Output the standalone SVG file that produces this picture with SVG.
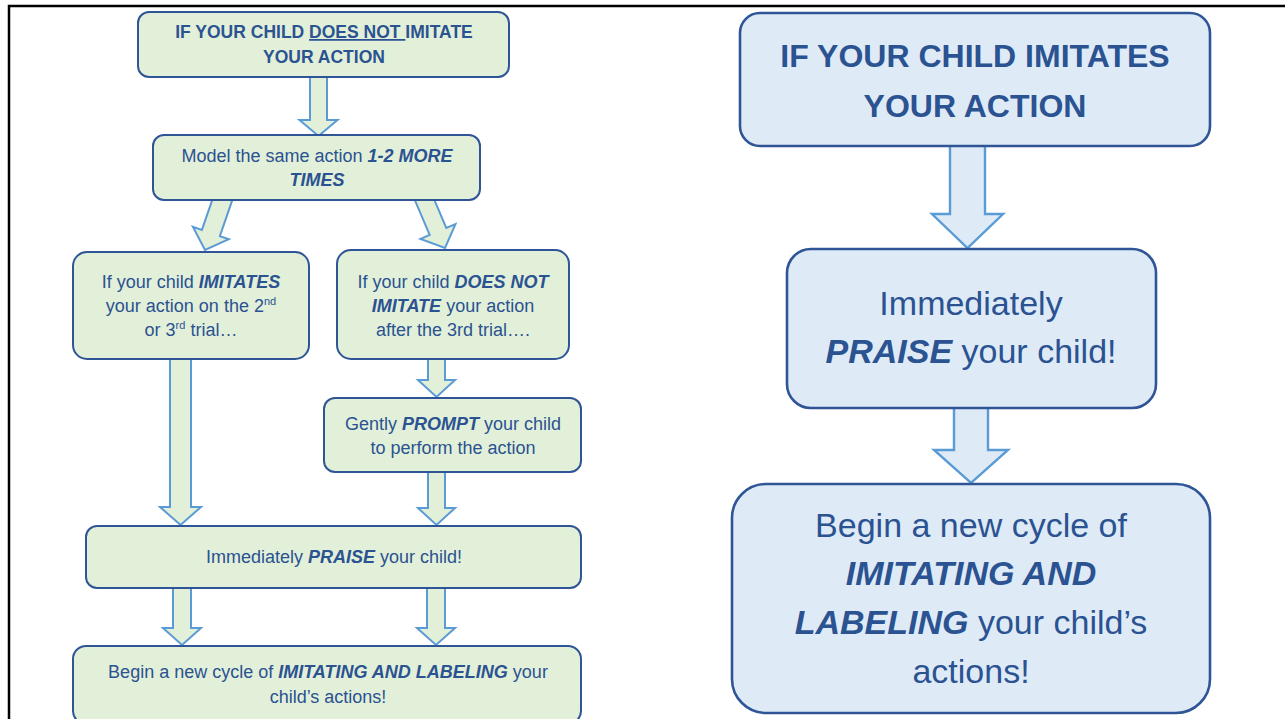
<svg xmlns="http://www.w3.org/2000/svg" width="1285" height="719" viewBox="0 0 1285 719">
<style>
text{font-family:"Liberation Sans",Arial,sans-serif;fill:#2B5291;text-anchor:middle}
.lb{fill:#E2F0D9;stroke:#2F5597;stroke-width:2}
.rb{fill:#DEEBF7;stroke:#2F5597;stroke-width:2.6}
.la{fill:#E2F0D9;stroke:#5B9BD5;stroke-width:2;stroke-linejoin:miter}
.ra{fill:#DEEBF7;stroke:#5B9BD5;stroke-width:2.4;stroke-linejoin:miter}
.t1{font-size:17.5px;font-weight:bold}
.t2{font-size:18px}
.t3{font-size:32px;font-weight:bold}
.t4{font-size:34px}
.bi{font-weight:bold;font-style:italic}
.u{text-decoration:underline}
</style>
<rect x="0" y="0" width="1285" height="719" fill="#ffffff"/>
<path d="M9 719V6H1285" fill="none" stroke="#000" stroke-width="2.5"/>
<g id="connectors">
<polygon class="la" points="310,72 327,72 327,120 337.5,120 318.5,136 299.5,120 310,120"/>
<polygon class="la" transform="translate(224,195) rotate(19.06)" points="-9.5,0 9.5,0 9.5,40.2 19,40.2 0,58.2 -19,40.2 -9.5,40.2"/>
<polygon class="la" transform="translate(422.5,195) rotate(-23)" points="-9,0 9,0 9,39.6 19,39.6 0,57.6 -19,39.6 -9,39.6"/>
<polygon class="la" points="170,355 191,355 191,507 201,507 180.5,525 160,507 170,507"/>
<polygon class="la" points="428,355 445,355 445,380 455,380 436.5,397 418,380 428,380"/>
<polygon class="la" points="428,468 445,468 445,508 455,508 436.5,525 418,508 428,508"/>
<polygon class="la" points="173,584 191,584 191,628 201,628 182,645 163,628 173,628"/>
<polygon class="la" points="427,584 445,584 445,628 455,628 436,645 417,628 427,628"/>
<polygon class="ra" points="950,140 985,140 985,214 1003,214 967.5,248 932,214 950,214"/>
<polygon class="ra" points="954,402 988,402 988,450 1008,450 971,483 934,450 954,450"/>
</g>
<g id="n1"><rect class="lb" x="138" y="12" width="371" height="65" rx="11"/>
<text class="t1" x="324" y="38">IF YOUR CHILD <tspan class="u">DOES NOT </tspan>IMITATE</text>
<text class="t1" x="324" y="63">YOUR ACTION</text></g>
<g id="n2"><rect class="lb" x="153" y="135" width="327" height="65" rx="11"/>
<text class="t2" x="317" y="162">Model the same action <tspan class="bi">1-2 MORE</tspan></text>
<text class="t2 bi" x="317" y="186">TIMES</text></g>
<g id="n3"><rect class="lb" x="73" y="252" width="236" height="107" rx="14"/>
<text class="t2" x="191" y="288">If your child <tspan class="bi">IMITATES</tspan></text>
<text class="t2" x="191" y="312">your action on the 2<tspan font-size="11" dy="-7">nd</tspan></text>
<text class="t2" x="191" y="336">or 3<tspan font-size="11" dy="-7">rd</tspan><tspan dy="7"> trial…</tspan></text></g>
<g id="n4"><rect class="lb" x="337" y="250" width="232" height="109" rx="14"/>
<text class="t2" x="453" y="288">If your child <tspan class="bi">DOES NOT</tspan></text>
<text class="t2" x="453" y="312"><tspan class="bi">IMITATE</tspan> your action</text>
<text class="t2" x="453" y="336">after the 3rd trial….</text></g>
<g id="n5"><rect class="lb" x="324" y="398" width="257" height="74" rx="11"/>
<text class="t2" x="453" y="430">Gently <tspan class="bi">PROMPT</tspan> your child</text>
<text class="t2" x="453" y="454">to perform the action</text></g>
<g id="n6"><rect class="lb" x="86" y="526" width="495" height="62" rx="11"/>
<text class="t2" x="334" y="563">Immediately <tspan class="bi">PRAISE</tspan> your child!</text></g>
<g id="n7"><rect class="lb" x="73" y="646" width="508" height="78" rx="13"/>
<text class="t2" x="328" y="678">Begin a new cycle of <tspan class="bi">IMITATING AND LABELING</tspan> your</text>
<text class="t2" x="328" y="703">child’s actions!</text></g>
<g id="r1"><rect class="rb" x="740" y="13" width="470" height="133" rx="20"/>
<text class="t3" x="975" y="67">IF YOUR CHILD IMITATES</text>
<text class="t3" x="975" y="117">YOUR ACTION</text></g>
<g id="r2"><rect class="rb" x="787" y="249" width="369" height="159" rx="24"/>
<text class="t4" x="971" y="315">Immediately</text>
<text class="t4" x="971" y="363"><tspan class="bi">PRAISE</tspan> your child!</text></g>
<g id="r3"><rect class="rb" x="732" y="484" width="478" height="229" rx="34"/>
<text class="t4" x="971" y="537">Begin a new cycle of</text>
<text class="t4 bi" x="971" y="585">IMITATING AND</text>
<text class="t4" x="971" y="634"><tspan class="bi">LABELING</tspan> your child’s</text>
<text class="t4" x="971" y="683">actions!</text></g>
</svg>
